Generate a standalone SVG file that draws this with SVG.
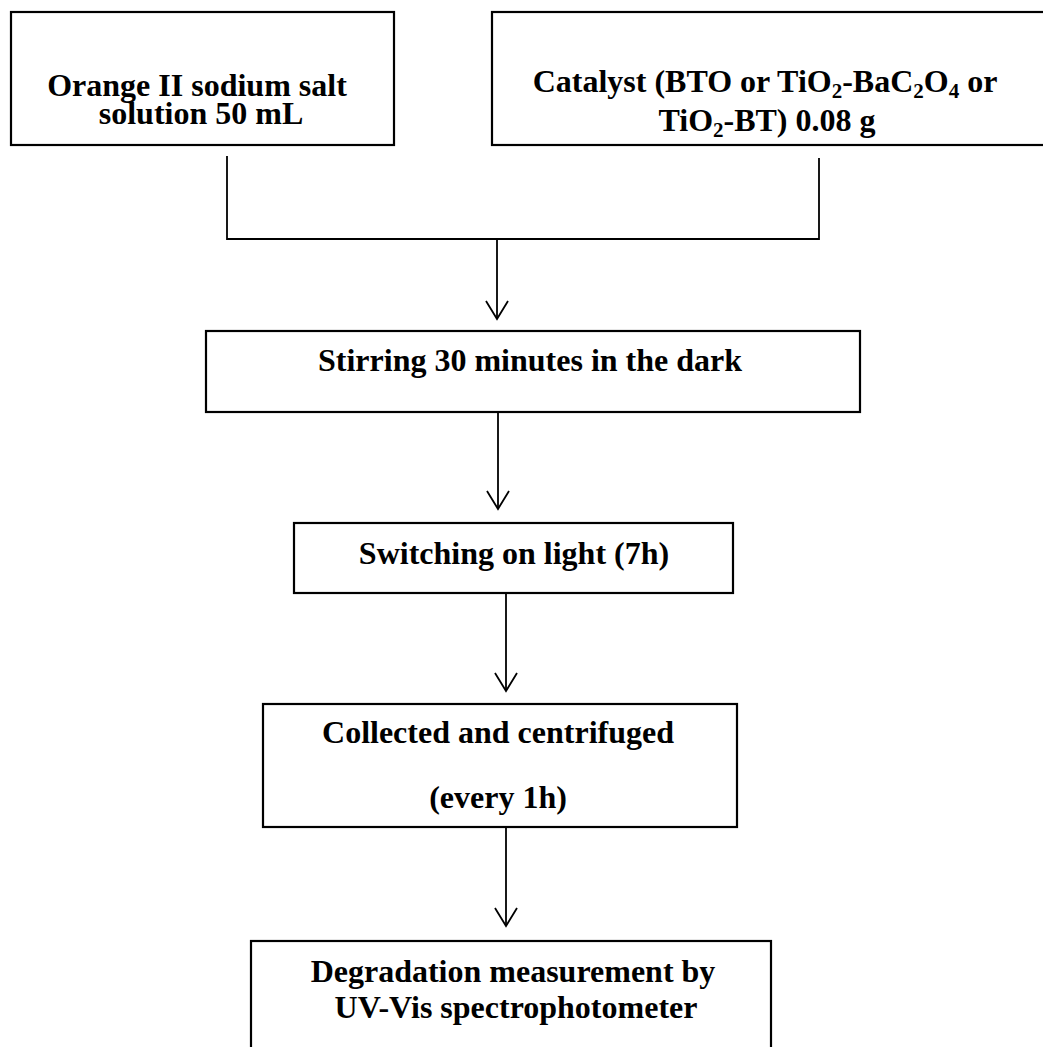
<svg xmlns="http://www.w3.org/2000/svg" width="1043" height="1047" viewBox="0 0 1043 1047">
<style>
.box{fill:#fff;stroke:#000;stroke-width:2.2}
.t{font-family:"Liberation Serif","Times New Roman",serif;font-weight:bold;font-size:32px;fill:#000;text-anchor:middle}
.sub{font-size:21px}
.ln{fill:none;stroke:#000;stroke-width:1.8}
</style>
<rect width="1043" height="1047" fill="#fff"/>
<g id="connectors">
<path class="ln" d="M227,156 V239 H819 V158"/>
<path class="ln" d="M497,239 V319"/>
<path class="ln" d="M486,301 L497,319 L508,301"/>
<path class="ln" d="M498,412 V509"/>
<path class="ln" d="M487,491 L498,509 L509,491"/>
<path class="ln" d="M506,593 V691"/>
<path class="ln" d="M495,673 L506,691 L517,673"/>
<path class="ln" d="M506,827 V926"/>
<path class="ln" d="M495,908 L506,926 L517,908"/>
</g>
<g id="node-orange">
<rect class="box" x="11" y="12" width="383" height="133"/>
<text class="t" x="197" y="96">Orange II sodium salt</text>
<text class="t" x="201" y="124">solution 50 mL</text>
</g>
<g id="node-catalyst">
<rect class="box" x="492" y="12" width="570" height="133"/>
<text class="t" x="765" y="92">Catalyst (BTO or TiO<tspan class="sub" dy="6">2</tspan><tspan dy="-6">-BaC</tspan><tspan class="sub" dy="6">2</tspan><tspan dy="-6">O</tspan><tspan class="sub" dy="6">4</tspan><tspan dy="-6"> or</tspan></text>
<text class="t" x="767" y="131">TiO<tspan class="sub" dy="6">2</tspan><tspan dy="-6">-BT) 0.08 g</tspan></text>
</g>
<g id="node-stirring">
<rect class="box" x="206" y="331" width="654" height="81"/>
<text class="t" x="530" y="371">Stirring 30 minutes in the dark</text>
</g>
<g id="node-light">
<rect class="box" x="294" y="523" width="439" height="70"/>
<text class="t" x="514" y="564">Switching on light (7h)</text>
</g>
<g id="node-collected">
<rect class="box" x="263" y="704" width="474" height="123"/>
<text class="t" x="498" y="743">Collected and centrifuged</text>
<text class="t" x="498" y="808">(every 1h)</text>
</g>
<g id="node-degradation">
<rect class="box" x="251" y="941" width="520" height="120"/>
<text class="t" x="513" y="982">Degradation measurement by</text>
<text class="t" x="516" y="1018">UV-Vis spectrophotometer</text>
</g>
</svg>
